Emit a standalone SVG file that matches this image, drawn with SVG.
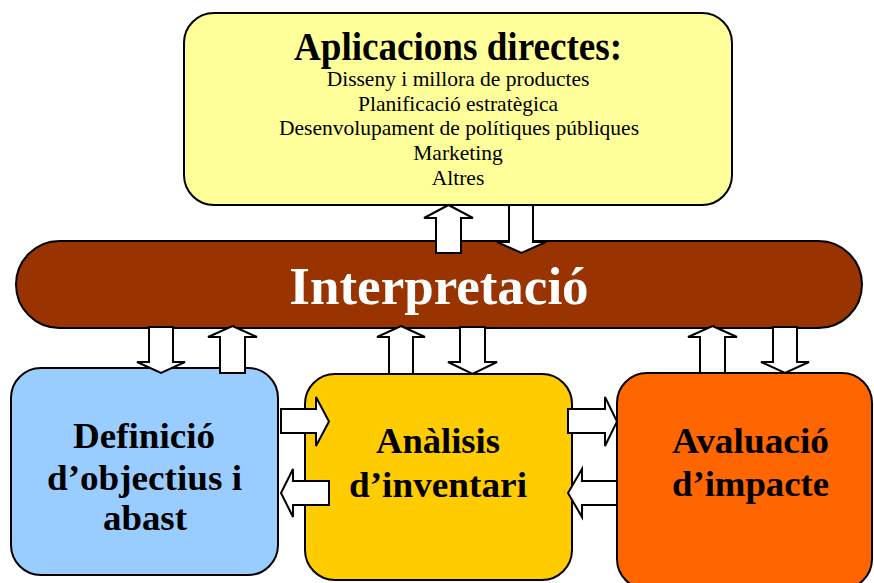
<svg xmlns="http://www.w3.org/2000/svg" width="874" height="583" viewBox="0 0 874 583">
<style>
.box{stroke:#000;stroke-width:2}
.arrow{fill:#fff;stroke:#000;stroke-width:2;stroke-linejoin:miter}
.t{font-family:"Liberation Serif","Times New Roman",serif;text-anchor:middle;fill:#000}
.b{font-weight:bold}
.lbl{font-size:35px;font-weight:bold}
.sub{font-size:21.5px}
</style>
<rect width="874" height="583" fill="#fff"/>
<g id="aplicacions">
<rect class="box" x="184" y="13" width="548" height="192" rx="30" ry="30" fill="#FFFF99"/>
<text class="t b" x="458" y="60" font-size="40" textLength="328" lengthAdjust="spacingAndGlyphs">Aplicacions directes:</text>
<text class="t sub" x="458" y="86">Disseny i millora de productes</text>
<text class="t sub" x="458" y="111">Planificació estratègica</text>
<text class="t sub" x="459" y="135">Desenvolupament de polítiques públiques</text>
<text class="t sub" x="458" y="160">Marketing</text>
<text class="t sub" x="458" y="185">Altres</text>
</g>
<g id="interpretacio">
<rect class="box" x="16" y="241" width="846" height="87" rx="43.5" ry="43.5" fill="#993300"/>
<text class="t b" x="439" y="304" font-size="53" style="fill:#fff">Interpretació</text>
</g>
<g id="definicio">
<rect class="box" x="11" y="368" width="267" height="207" rx="30" ry="30" fill="#99CCFF"/>
<text class="t lbl" x="144" y="448" textLength="142" lengthAdjust="spacingAndGlyphs">Definició</text>
<text class="t lbl" x="144.5" y="490" textLength="195" lengthAdjust="spacingAndGlyphs">d’objectius i</text>
<text class="t lbl" x="145" y="530" textLength="84" lengthAdjust="spacingAndGlyphs">abast</text>
</g>
<g id="inventari">
<rect class="box" x="305" y="374" width="267" height="206" rx="30" ry="30" fill="#FFCC00"/>
<text class="t lbl" x="438" y="453" textLength="124" lengthAdjust="spacingAndGlyphs">Anàlisis</text>
<text class="t lbl" x="438" y="497" textLength="178" lengthAdjust="spacingAndGlyphs">d’inventari</text>
</g>
<g id="impacte">
<rect class="box" x="617" y="373" width="255" height="216" rx="30" ry="30" fill="#FF6600"/>
<text class="t lbl" x="750.5" y="453" textLength="157" lengthAdjust="spacingAndGlyphs">Avaluació</text>
<text class="t lbl" x="750.5" y="496" textLength="157" lengthAdjust="spacingAndGlyphs">d’impacte</text>
</g>
<g id="connectors">
<polygon class="arrow" points="448.5,205 473,218 461,218 461,253 436,253 436,218 424,218"/>
<polygon class="arrow" points="509,205 533,205 533,242 546,242 521.5,253 497,242 509,242"/>
<polygon class="arrow" points="149,327 173,327 173,362 185,362 161,373 137,362 149,362"/>
<polygon class="arrow" points="232.5,326 257,337 245,337 245,373 220,373 220,337 208,337"/>
<polygon class="arrow" points="401,326 425,337 413,337 413,374 389,374 389,337 377,337"/>
<polygon class="arrow" points="460,327 485,327 485,362 497,362 472.5,374 448,362 460,362"/>
<polygon class="arrow" points="712.5,326 737,337 725,337 725,373 700,373 700,337 688,337"/>
<polygon class="arrow" points="773,327 797,327 797,362 809,362 785,373 761,362 773,362"/>
<polygon class="arrow" points="281,409 316,409 316,397 329,421.5 316,446 316,433 281,433"/>
<polygon class="arrow" points="329,481 293,481 293,469 281,493 293,517 293,505 329,505"/>
<polygon class="arrow" points="568,409 605,409 605,397 617,421.5 605,446 605,433 568,433"/>
<polygon class="arrow" points="617,481 582,481 582,469 568,493 582,517 582,505 617,505"/>
</g>
</svg>
